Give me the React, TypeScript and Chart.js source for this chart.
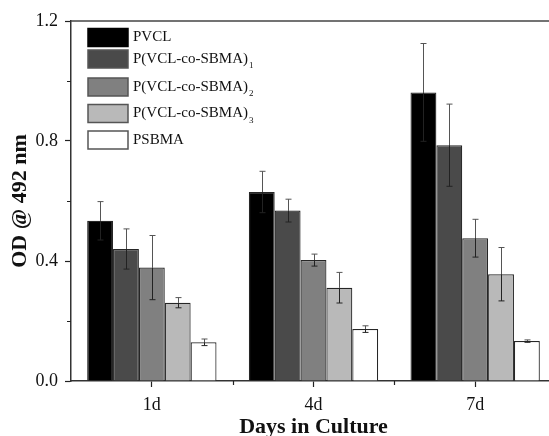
import React, { useEffect, useRef } from "react";
import { Chart, registerables } from "chart.js";

Chart.register(...registerables);

const categories = ["1d", "4d", "7d"];
const seriesNames = ["PVCL", "P(VCL-co-SBMA)", "P(VCL-co-SBMA)", "P(VCL-co-SBMA)", "PSBMA"];
const seriesSubscripts = ["", "1", "2", "3", ""];
const seriesColors = ["#000000", "#4a4a4a", "#808080", "#b9b9b9", "#ffffff"];

const pvcl = [0.534, 0.63, 0.962];
const sbma1 = [0.44, 0.568, 0.786];
const sbma2 = [0.378, 0.403, 0.476];
const sbma3 = [0.261, 0.311, 0.356];
const psbma = [0.129, 0.173, 0.133];

const pvclErr = [0.064, 0.069, 0.163];
const sbma1Err = [0.067, 0.038, 0.137];
const sbma2Err = [0.107, 0.02, 0.063];
const sbma3Err = [0.017, 0.051, 0.089];
const psbmaErr = [0.011, 0.011, 0.004];

const seriesValues = [pvcl, sbma1, sbma2, sbma3, psbma];
const seriesErrors = [pvclErr, sbma1Err, sbma2Err, sbma3Err, psbmaErr];

const yMajorTicks = [0, 0.4, 0.8, 1.2];
const yMinorTicks = [0.2, 0.6, 1.0];

const FONT = "'Liberation Serif', 'Times New Roman', serif";

const errorBarPlugin = {
  id: "errorBars",
  afterDatasetsDraw(chart: any) {
    const ctx = chart.ctx;
    const yScale = chart.scales.y;
    ctx.save();
    ctx.lineWidth = 1;
    chart.data.datasets.forEach((ds: any, i: number) => {
      const meta = chart.getDatasetMeta(i);
      meta.data.forEach((el: any, j: number) => {
        const v = ds.data[j];
        const e = ds.errors[j];
        const x = Math.round(el.x) + 0.5;
        const yt = yScale.getPixelForValue(v + e);
        const yv = yScale.getPixelForValue(v);
        const yb = yScale.getPixelForValue(v - e);
        ctx.strokeStyle = "#555";
        ctx.beginPath();
        ctx.moveTo(x, yt);
        ctx.lineTo(x, yv);
        ctx.moveTo(x - 3, yt);
        ctx.lineTo(x + 3, yt);
        ctx.stroke();
        ctx.strokeStyle = "#222";
        ctx.beginPath();
        ctx.moveTo(x, yv);
        ctx.lineTo(x, yb);
        ctx.moveTo(x - 3, yb);
        ctx.lineTo(x + 3, yb);
        ctx.stroke();
      });
    });
    ctx.restore();
  },
};

const framePlugin = {
  id: "frame",
  afterDraw(chart: any) {
    const ctx = chart.ctx;
    const { left, right, top, bottom } = chart.chartArea;
    const y = chart.scales.y;
    const x = chart.scales.x;
    ctx.save();
    ctx.strokeStyle = "#444";
    ctx.lineWidth = 1.5;
    ctx.beginPath();
    ctx.moveTo(left, top);
    ctx.lineTo(right + 10, top);
    ctx.stroke();
    ctx.lineWidth = 1.2;
    ctx.strokeStyle = "#222";
    ctx.beginPath();
    yMinorTicks.forEach((v) => {
      const py = Math.round(y.getPixelForValue(v)) + 0.5;
      ctx.moveTo(left - 4, py);
      ctx.lineTo(left, py);
    });
    for (let i = 0; i < categories.length - 1; i++) {
      const px = Math.round((x.getPixelForValue(i) + x.getPixelForValue(i + 1)) / 2) + 0.5;
      ctx.moveTo(px, bottom);
      ctx.lineTo(px, bottom + 4);
    }
    ctx.stroke();
    ctx.restore();
  },
};

const legendPlugin = {
  id: "customLegend",
  afterDraw(chart: any) {
    const ctx = chart.ctx;
    const boxX = 88;
    const boxW = 40;
    const boxH = 18;
    const tops = [28.5, 50, 78, 104.5, 131];
    ctx.save();
    seriesNames.forEach((name, i) => {
      const t = tops[i];
      ctx.fillStyle = seriesColors[i];
      ctx.fillRect(boxX, t, boxW, boxH);
      ctx.strokeStyle = i === 0 ? "#000" : "#555";
      ctx.lineWidth = 1.5;
      ctx.strokeRect(boxX, t, boxW, boxH);
      ctx.fillStyle = "#111";
      ctx.font = `15px ${FONT}`;
      ctx.textBaseline = "middle";
      ctx.textAlign = "left";
      const cy = t + boxH / 2;
      ctx.fillText(name, 133, cy);
      if (seriesSubscripts[i]) {
        const w = ctx.measureText(name).width;
        ctx.font = `9px ${FONT}`;
        ctx.fillText(seriesSubscripts[i], 133 + w + 1, cy + 7);
      }
    });
    ctx.restore();
  },
};

export default function App() {
  const ref = useRef<HTMLCanvasElement>(null);
  useEffect(() => {
    if (!ref.current) return;
    const chart = new Chart(ref.current, {
      type: "bar",
      data: {
        labels: categories,
        datasets: seriesValues.map((vals, i) => ({
          label: seriesNames[i] + seriesSubscripts[i],
          data: vals,
          errors: seriesErrors[i],
          backgroundColor: seriesColors[i],
          borderColor: "#262626",
          borderWidth: 1.2,
          categoryPercentage: 0.8,
          barPercentage: 1.0,
        })) as any,
      },
      options: {
        animation: false,
        responsive: false,
        maintainAspectRatio: false,
        devicePixelRatio: 1,
        layout: { padding: { left: 0, top: 21, right: 4, bottom: 0 } },
        plugins: { legend: { display: false }, tooltip: { enabled: false } },
        scales: {
          x: {
            type: "category",
            afterFit(scale: any) {
              scale.height = 64;
            },
            grid: {
              offset: false,
              drawOnChartArea: false,
              tickLength: 6,
              tickColor: "#222",
              tickWidth: 1.2,
            },
            border: { display: true, color: "#333", width: 1.5 },
            ticks: {
              color: "#111",
              font: { family: FONT, size: 18 },
              padding: 7,
              maxRotation: 0,
            },
            title: {
              display: true,
              text: "Days in Culture",
              color: "#111",
              font: { family: FONT, size: 22, weight: "bold" },
              padding: { top: 0, bottom: 4 },
            },
          },
          y: {
            min: 0,
            max: 1.2,
            afterFit(scale: any) {
              scale.width = 71;
            },
            afterBuildTicks(scale: any) {
              scale.ticks = yMajorTicks.map((v) => ({ value: v }));
            },
            grid: {
              drawOnChartArea: false,
              tickLength: 6,
              tickColor: "#222",
              tickWidth: 1.2,
            },
            border: { display: true, color: "#333", width: 1.5 },
            ticks: {
              color: "#111",
              font: { family: FONT, size: 18 },
              padding: 7,
              callback: (v: any) => Number(v).toFixed(1),
            },
            title: {
              display: true,
              text: "OD @ 492 nm",
              color: "#111",
              font: { family: FONT, size: 22, weight: "bold" },
              padding: { top: 7, bottom: 0 },
            },
          },
        },
      },
      plugins: [errorBarPlugin, framePlugin, legendPlugin],
    } as any);
    return () => chart.destroy();
  }, []);
  return (
    <div
      style={{
        position: "fixed",
        left: 0,
        top: 0,
        width: 549,
        height: 436,
        overflow: "hidden",
        background: "#fff",
      }}
    >
      <canvas ref={ref} width={560} height={445} style={{ width: 560, height: 445, display: "block" }} />
    </div>
  );
}
